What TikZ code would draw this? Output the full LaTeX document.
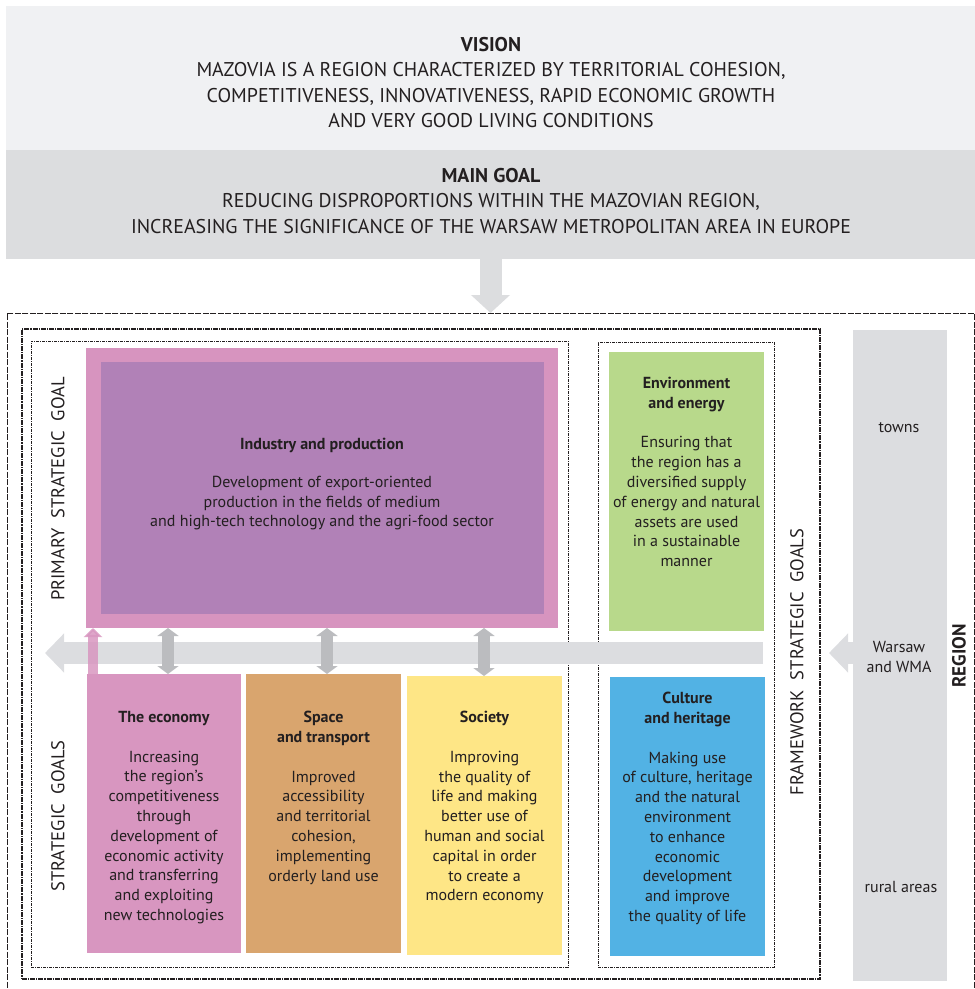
\documentclass[tikz,border=0pt]{standalone}
\usepackage{fontspec}
\setmainfont{PT Sans}
\newfontfamily\capsfont{PT Sans}
\usepackage{xcolor}
\usetikzlibrary{shapes,arrows,positioning,calc,arrows.meta}

\definecolor{ink}{HTML}{231F20}
\definecolor{visionbg}{HTML}{F0F1F3}
\definecolor{goalbg}{HTML}{DCDDDF}
\definecolor{industryout}{HTML}{D794BF}
\definecolor{industryin}{HTML}{B181B7}
\definecolor{economybg}{HTML}{D896C0}
\definecolor{spacebg}{HTML}{D9A56E}
\definecolor{societybg}{HTML}{FEE686}
\definecolor{envbg}{HTML}{B8D98B}
\definecolor{culturebg}{HTML}{52B2E4}
\definecolor{regionbg}{HTML}{DCDDE0}
\definecolor{linkgray}{HTML}{BBBCBF}

\begin{document}
\begin{tikzpicture}[x=1pt, y=-1pt,
    box/.style={anchor=north west, inner sep=0pt, outer sep=0pt},
    boxtext/.style={align=center, inner sep=0pt, anchor=north, text=ink, font=\fontsize{16}{19.8}\selectfont},
    headtext/.style={align=center, inner sep=0pt, text=ink, font=\capsfont\fontsize{19.9}{25.5}\selectfont},
    sidetext/.style={rotate=90, inner sep=0pt, text=ink, font=\fontsize{18.5}{18.5}\selectfont},
    dblarrow/.style={{Triangle[width=21pt,length=8pt]}-{Triangle[width=21pt,length=8pt]}, line width=12pt, draw=linkgray},
    bararrow/.style={-{Triangle[width=38pt,length=19pt]}, line width=22pt, draw=regionbg}
]
\useasboundingbox (0,0) rectangle (975,989);

% Vision and main goal
\node [box, fill=visionbg, minimum width=969, minimum height=144] (vision) at (6,6) {};
\node [box, fill=goalbg, minimum width=969, minimum height=109] (maingoal) at (6,150) {};
\node [headtext] (visiontxt) at (491,82.5) {\textbf{VISION}\\
    MAZOVIA IS A REGION CHARACTERIZED BY TERRITORIAL COHESION,\\
    COMPETITIVENESS, INNOVATIVENESS, RAPID ECONOMIC GROWTH\\
    AND VERY GOOD LIVING CONDITIONS};
\node [headtext] (maingoaltxt) at (491,201) {\textbf{MAIN GOAL}\\
    REDUCING DISPROPORTIONS WITHIN THE MAZOVIAN REGION,\\
    INCREASING THE SIGNIFICANCE OF THE WARSAW METROPOLITAN AREA IN EUROPE};

% Frames
\node [box, draw=ink, line width=0.8pt, dash pattern=on 6pt off 1.5pt, minimum width=967, minimum height=690] (frame) at (7,313) {};
\node [box, draw=ink, line width=1.4pt, dash pattern=on 5pt off 1pt on 1.2pt off 1pt, minimum width=798, minimum height=650] (goalsframe) at (22,329) {};
\node [box, draw=ink, line width=0.6pt, dash pattern=on 3pt off 1pt on 1pt off 1pt, minimum width=537, minimum height=626] (leftframe) at (31,341) {};
\node [box, draw=ink, line width=0.6pt, dash pattern=on 3pt off 1pt on 1pt off 1pt, minimum width=176, minimum height=625] (rightframe) at (598,342) {};

\draw [-{Triangle[width=38pt,length=18pt]}, line width=22pt, draw=goalbg] (maingoal.south) -- (frame.north);

% Region bar
\node [box, fill=regionbg, minimum width=94, minimum height=651] (region) at (853,330) {};
\coordinate (regiontip) at (829,653);
\draw [bararrow] (region.west |- regiontip) -- (regiontip);
\node [boxtext, anchor=center] (towns) at (899,428) {towns};
\node [boxtext, anchor=center] (warsaw) at (899,657) {Warsaw\\and WMA};
\node [boxtext, anchor=center] (rural) at (901,887) {rural areas};
\node [sidetext, font=\bfseries\fontsize{19}{19}\selectfont] (regionlbl) at (959,656) {REGION};

% Primary strategic goal
\node [box, fill=industryout, minimum width=472, minimum height=280] (industryfrm) at (86,348) {};
\node [box, fill=industryin, minimum width=443, minimum height=252] (industry) at (101,362) {};
\node [boxtext, below=90pt of industryfrm.north] (industrytxt) {\textbf{Industry and production}\\[18pt]
    Development of export-oriented\\
    production in the fields of medium\\
    and high-tech technology and the agri-food sector};

% Horizontal link bar
\coordinate (barend) at (763,653);
\coordinate (bartip) at (45,653);
\draw [bararrow] (barend) -- (bartip);

% Strategic goals
\node [box, fill=economybg, minimum width=154, minimum height=279] (economy) at (87,674) {};
\node [box, fill=spacebg, minimum width=155, minimum height=279] (space) at (246,674) {};
\node [box, fill=societybg, minimum width=155, minimum height=279] (society) at (407,676) {};

\node [boxtext, below=37pt of economy.north] (economytxt) {\textbf{The economy}\\[19.8pt]
    Increasing\\the region’s\\competitiveness\\through\\development of\\economic activity\\and transferring\\and exploiting\\new technologies};
\node [boxtext, below=37pt of space.north] (spacetxt) {\textbf{Space}\\\textbf{and transport}\\[19.8pt]
    Improved\\accessibility\\and territorial\\cohesion,\\implementing\\orderly land use};
\node [boxtext, below=35pt of society.north] (societytxt) {\textbf{Society}\\[19.8pt]
    Improving\\the quality of\\life and making\\better use of\\human and social\\capital in order\\to create a\\modern economy};

% Links between goals
\draw [dblarrow] (industryfrm.south -| 168,0) -- (economy.north -| 168,0);
\draw [dblarrow] (industryfrm.south -| 327,0) -- (space.north -| 327,0);
\draw [dblarrow] (industryfrm.south -| 484,0) -- (society.north -| 484,0);
\draw [-{Triangle[width=18pt,length=9pt]}, line width=10pt, draw=economybg, opacity=0.85] (economy.north west -| 93,0) -- (industryfrm.south west -| 93,0);

% Framework strategic goals
\node [box, fill=envbg, minimum width=155, minimum height=279] (environment) at (609,352) {};
\node [box, fill=culturebg, minimum width=155, minimum height=279] (culture) at (610,677) {};
\node [boxtext, below=25pt of environment.north] (environmenttxt) {\textbf{Environment}\\\textbf{and energy}\\[19.8pt]
    Ensuring that\\the region has a\\diversified supply\\of energy and natural\\assets are used\\in a sustainable\\manner};
\node [boxtext, below=15pt of culture.north] (culturetxt) {\textbf{Culture}\\\textbf{and heritage}\\[19.8pt]
    Making use\\of culture, heritage\\and the natural\\environment\\to enhance\\economic\\development\\and improve\\the quality of life};

% Side labels
\node [sidetext] (primarylbl) at (58,489) {PRIMARY\ \ STRATEGIC\ \ GOAL};
\node [sidetext] (strategiclbl) at (58,816) {STRATEGIC\ \ GOALS};
\node [sidetext] (frameworklbl) at (797,662) {FRAMEWORK\ \ STRATEGIC\ \ GOALS};
\end{tikzpicture}
\end{document}
